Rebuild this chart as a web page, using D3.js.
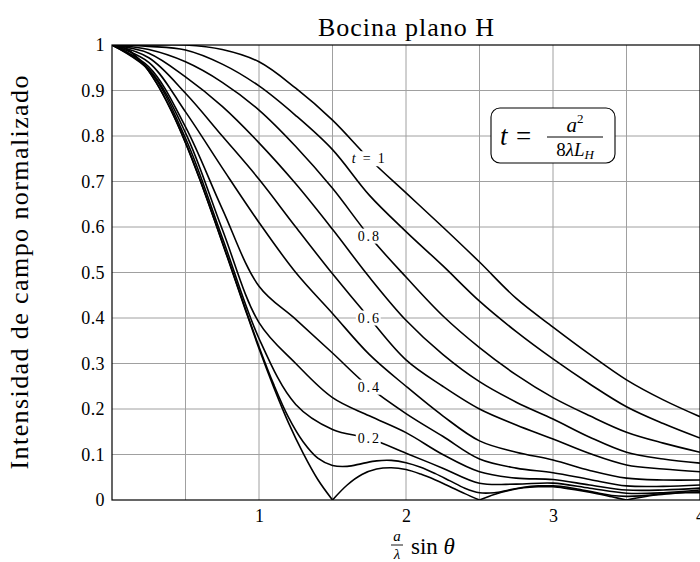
<!DOCTYPE html>
<html>
<head>
<meta charset="utf-8">
<script src="https://cdn.jsdelivr.net/npm/d3@7"></script>
<style>
body { margin: 0; background: #fff; }
svg { display: block; font-family: "Liberation Serif", "DejaVu Serif", serif; }
</style>
</head>
<body>
<div id="c1"></div>
<script>
// Data: normalised field vs (a/lambda) sin(theta), one series per t
var uFine = [0, 0.1, 0.2, 0.3, 0.4, 0.5, 0.6, 0.7, 0.8, 0.9, 1, 1.1, 1.2, 1.3, 1.4, 1.5, 1.6, 1.7, 1.8, 1.9,
    2, 2.1, 2.2, 2.3, 2.4, 2.5, 2.6, 2.7, 2.8, 2.9, 3, 3.1, 3.2, 3.3, 3.4, 3.5, 3.6, 3.7, 3.8, 3.9, 4];
var uCoarse = [0, 0.25, 0.5, 0.75, 1, 1.25, 1.5, 1.75, 2, 2.25, 2.5, 2.75, 3, 3.25, 3.5, 3.75, 4];

var t00 = [1, 0.991, 0.963, 0.918, 0.858, 0.785, 0.702, 0.612, 0.519, 0.425, 0.333, 0.248, 0.170, 0.103, 0.045, 0,
    0.033, 0.056, 0.068, 0.071, 0.067, 0.057, 0.044, 0.029, 0.014, 0, 0.012, 0.021, 0.027, 0.029, 0.029,
    0.025, 0.020, 0.014, 0.007, 0, 0.006, 0.011, 0.014, 0.016, 0.016];
var t01 = [1, 0.991, 0.963, 0.918, 0.858, 0.786, 0.703, 0.613, 0.521, 0.427, 0.337, 0.254, 0.182, 0.128, 0.092, 0.076,
    0.074, 0.080, 0.086, 0.087, 0.082, 0.072, 0.058, 0.042, 0.026, 0.016, 0.016, 0.022, 0.028, 0.031, 0.031,
    0.028, 0.022, 0.016, 0.010, 0.008, 0.009, 0.012, 0.015, 0.017, 0.018];
var t02 = [1, 0.945, 0.795, 0.577, 0.355, 0.21, 0.155, 0.135, 0.103, 0.07, 0.037, 0.035, 0.037, 0.026, 0.015, 0.016, 0.022];
var t03 = [1, 0.947, 0.807, 0.595, 0.39, 0.30, 0.225, 0.185, 0.148, 0.10, 0.062, 0.048, 0.045, 0.033, 0.022, 0.022, 0.026];
var t04 = [1, 0.952, 0.82, 0.64, 0.47, 0.397, 0.323, 0.248, 0.19, 0.14, 0.09, 0.07, 0.06, 0.045, 0.031, 0.03, 0.033];
var t05 = [1, 0.962, 0.853, 0.73, 0.61, 0.50, 0.41, 0.32, 0.25, 0.185, 0.13, 0.105, 0.088, 0.065, 0.048, 0.044, 0.044];
var t06 = [1, 0.972, 0.894, 0.80, 0.705, 0.60, 0.497, 0.40, 0.308, 0.25, 0.20, 0.165, 0.134, 0.102, 0.077, 0.068, 0.062];
var t07 = [1, 0.982, 0.93, 0.865, 0.785, 0.695, 0.595, 0.49, 0.395, 0.32, 0.26, 0.215, 0.178, 0.138, 0.105, 0.09, 0.081];
var t08 = [1, 0.99, 0.963, 0.918, 0.857, 0.777, 0.685, 0.58, 0.49, 0.405, 0.335, 0.275, 0.225, 0.185, 0.149, 0.125, 0.105];
var t09 = [1, 0.997, 0.989, 0.958, 0.91, 0.845, 0.77, 0.67, 0.59, 0.515, 0.437, 0.37, 0.31, 0.255, 0.205, 0.168, 0.136];
var t10 = [1, 1, 1, 0.99, 0.963, 0.905, 0.835, 0.75, 0.675, 0.60, 0.523, 0.443, 0.38, 0.32, 0.264, 0.22, 0.183];

var series = [
    { t: 0, u: uFine, v: t00, label: "0" },
    { t: 0.1, u: uFine, v: t01 },
    { t: 0.2, u: uCoarse, v: t02, label: "0.2" },
    { t: 0.3, u: uCoarse, v: t03 },
    { t: 0.4, u: uCoarse, v: t04, label: "0.4" },
    { t: 0.5, u: uCoarse, v: t05 },
    { t: 0.6, u: uCoarse, v: t06, label: "0.6" },
    { t: 0.7, u: uCoarse, v: t07 },
    { t: 0.8, u: uCoarse, v: t08, label: "0.8" },
    { t: 0.9, u: uCoarse, v: t09 },
    { t: 1, u: uCoarse, v: t10, label: "t = 1" }
];

var yTicks = [0, 0.1, 0.2, 0.3, 0.4, 0.5, 0.6, 0.7, 0.8, 0.9, 1];
var yTickLabels = ["0", "0.1", "0.2", "0.3", "0.4", "0.5", "0.6", "0.7", "0.8", "0.9", "1"];
var xTicks = [1, 2, 3, 4];
var xGrid = [0.5, 1, 1.5, 2, 2.5, 3, 3.5];
var labelU = 1.75;

var w = 700, h = 562;

var svg = d3.select("#c1").append("svg")
    .attr("width", w)
    .attr("height", h);

var x = d3.scaleLinear().domain([0, 4]).range([112, 700]);
var y = d3.scaleLinear().domain([0, 1]).range([500, 45]);

svg.append("clipPath").attr("id", "plot")
    .append("rect")
    .attr("x", x(0)).attr("y", y(1))
    .attr("width", x(4) - x(0)).attr("height", y(0) - y(1));

// grid
svg.append("g").selectAll("line")
    .data(xGrid)
    .enter().append("line")
    .attr("x1", function (d) { return x(d); })
    .attr("x2", function (d) { return x(d); })
    .attr("y1", y(0)).attr("y2", y(1))
    .attr("stroke", "#a0a0a0").attr("stroke-width", 1);

svg.append("g").selectAll("line")
    .data(yTicks.slice(1, -1))
    .enter().append("line")
    .attr("x1", x(0)).attr("x2", x(4))
    .attr("y1", function (d) { return y(d); })
    .attr("y2", function (d) { return y(d); })
    .attr("stroke", "#a0a0a0").attr("stroke-width", 1);

// frame
svg.append("rect")
    .attr("x", x(0)).attr("y", y(1))
    .attr("width", x(4) - x(0)).attr("height", y(0) - y(1))
    .attr("fill", "none").attr("stroke", "#000").attr("stroke-width", 1.2);

// axes (labels only)
var yAxis = svg.append("g")
    .attr("transform", "translate(" + x(0) + ",0)")
    .call(d3.axisLeft(y).tickValues(yTicks).tickSize(0).tickPadding(7)
        .tickFormat(function (d, i) { return yTickLabels[i]; }));
yAxis.select(".domain").remove();
yAxis.selectAll("text").attr("font-size", 18).attr("font-family", "Liberation Serif")
    .attr("letter-spacing", 0.4).attr("fill", "#000");

var xAxis = svg.append("g")
    .attr("transform", "translate(0," + y(0) + ")")
    .call(d3.axisBottom(x).tickValues(xTicks).tickSize(0).tickPadding(9)
        .tickFormat(d3.format("d")));
xAxis.select(".domain").remove();
xAxis.selectAll("text").attr("font-size", 18).attr("font-family", "Liberation Serif").attr("fill", "#000");

// curves
var smooth = d3.line()
    .x(function (d) { return x(d[0]); })
    .y(function (d) { return y(d[1]); })
    .curve(d3.curveCatmullRom.alpha(0.5));

var curves = svg.append("g").attr("clip-path", "url(#plot)");

series.forEach(function (s) {
    var pts = s.u.map(function (u, i) { return [u, s.v[i]]; });
    var pieces = [];
    if (s.t === 0) {
        // split at the nulls so the cusps stay sharp
        var cur = [];
        pts.forEach(function (p, i) {
            cur.push(p);
            if (p[1] === 0 && i > 0) { pieces.push(cur); cur = [p]; }
        });
        if (cur.length > 1) pieces.push(cur);
    } else {
        pieces.push(pts);
    }
    pieces.forEach(function (pc) {
        curves.append("path")
            .attr("d", smooth(pc))
            .attr("fill", "none")
            .attr("stroke", "#000")
            .attr("stroke-width", 1.6);
    });
});

// curve labels with white knock-out
var labels = svg.append("g");
series.filter(function (s) { return s.label; }).forEach(function (s) {
    var i = s.u.indexOf(labelU);
    var cx = x(labelU), cy = y(s.v[i]);
    var g = labels.append("g");
    var txt = g.append("text")
        .attr("x", cx).attr("y", cy + 4.5)
        .attr("text-anchor", "middle")
        .attr("font-size", 14)
        .attr("letter-spacing", 1.8);
    if (s.label === "t = 1") {
        txt.append("tspan").attr("font-style", "italic").text("t");
        txt.append("tspan").text(" = 1");
    } else {
        txt.text(s.label);
    }
    var bb = txt.node().getBBox();
    g.insert("rect", "text")
        .attr("x", bb.x - 2).attr("y", bb.y)
        .attr("width", bb.width + 2).attr("height", bb.height)
        .attr("fill", "#fff");
});

// formula box
var fb = svg.append("g");
fb.append("rect")
    .attr("x", 491).attr("y", 108)
    .attr("width", 124).attr("height", 55)
    .attr("rx", 9)
    .attr("fill", "#fff").attr("stroke", "#000").attr("stroke-width", 1.1);
fb.append("text").attr("x", 500).attr("y", 145)
    .attr("font-size", 27).attr("font-style", "italic").text("t");
fb.append("text").attr("x", 516).attr("y", 145)
    .attr("font-size", 27).text("=");
var num = fb.append("text").attr("x", 575).attr("y", 132)
    .attr("text-anchor", "middle").attr("font-size", 21);
num.append("tspan").attr("font-style", "italic").text("a");
num.append("tspan").attr("font-size", 13).attr("dy", -9).text("2");
fb.append("line").attr("x1", 547).attr("x2", 603)
    .attr("y1", 137).attr("y2", 137)
    .attr("stroke", "#000").attr("stroke-width", 1);
var den = fb.append("text").attr("x", 575).attr("y", 156)
    .attr("text-anchor", "middle").attr("font-size", 19);
den.append("tspan").text("8");
den.append("tspan").attr("font-style", "italic").text("\u03bbL");
den.append("tspan").attr("font-size", 13).attr("font-style", "italic").attr("dy", 3).text("H");

// title
svg.append("text")
    .attr("x", (x(0) + x(4)) / 2).attr("y", 36)
    .attr("text-anchor", "middle")
    .attr("font-size", 26)
    .attr("textLength", 176).attr("lengthAdjust", "spacing")
    .text("Bocina plano H");

// y label
svg.append("text")
    .attr("transform", "translate(28," + ((y(0) + y(1)) / 2) + ") rotate(-90)")
    .attr("text-anchor", "middle")
    .attr("font-size", 26)
    .attr("textLength", 394).attr("lengthAdjust", "spacing")
    .text("Intensidad de campo normalizado");

// x label
var xl = svg.append("g");
xl.append("text").attr("x", 397).attr("y", 541)
    .attr("text-anchor", "middle").attr("font-size", 15).attr("font-style", "italic").text("a");
xl.append("line").attr("x1", 391).attr("x2", 403).attr("y1", 545).attr("y2", 545)
    .attr("stroke", "#000").attr("stroke-width", 0.9);
xl.append("text").attr("x", 397).attr("y", 559)
    .attr("text-anchor", "middle").attr("font-size", 15).attr("font-style", "italic").text("\u03bb");
var sx = xl.append("text").attr("x", 411).attr("y", 554).attr("font-size", 23);
sx.append("tspan").text("sin ");
sx.append("tspan").attr("font-style", "italic").text("\u03b8");
</script>
</body>
</html>
